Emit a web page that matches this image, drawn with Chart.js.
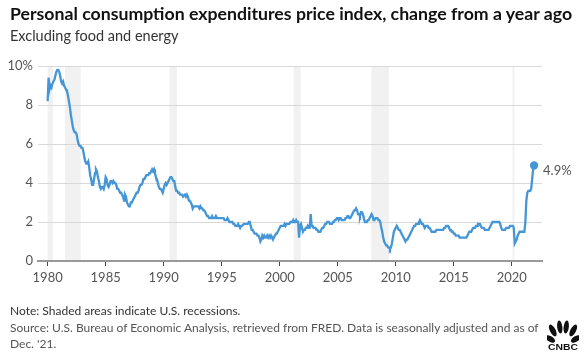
<!DOCTYPE html>
<html>
<head>
<meta charset="utf-8">
<script src="https://cdn.jsdelivr.net/npm/chart.js@4.4.1/dist/chart.umd.min.js"></script>
<style>
  body { margin: 0; width: 587px; height: 363px; background: #fff; position: relative; overflow: hidden; font-family: Lato, "Open Sans", sans-serif; }
  .title { position: absolute; left: 10px; top: 3px; font-size: 17.7px; font-weight: 700; color: #111; white-space: nowrap; }
  .subtitle { position: absolute; left: 10px; top: 27px; font-size: 14.5px; color: #333; white-space: nowrap; }
  .note { position: absolute; left: 10px; top: 303px; font-size: 12px; color: #333; white-space: nowrap; }
  .source { position: absolute; left: 10px; top: 320px; width: 530px; font-size: 12px; line-height: 16px; color: #555; }
  #wrap { position: absolute; left: 0; top: 0; width: 587px; height: 363px; }
  .logo { position: absolute; left: 547px; top: 320px; }
</style>
</head>
<body>
<div id="wrap"><canvas id="chart" width="587" height="363"></canvas></div>
<div class="title">Personal consumption expenditures price index, change from a year ago</div>
<div class="subtitle">Excluding food and energy</div>
<div class="note">Note: Shaded areas indicate U.S. recessions.</div>
<div class="source">Source: U.S. Bureau of Economic Analysis, retrieved from FRED. Data is seasonally adjusted and as of Dec. '21.</div>
<svg class="logo" width="32" height="32" viewBox="0 0 32 32">
  <g fill="#111">
    <ellipse cx="6" cy="14" rx="2.8" ry="5.5" transform="rotate(-58 9 19)"/>
    <ellipse cx="9.5" cy="8.5" rx="2.8" ry="6.5" transform="rotate(-28 11.5 17)"/>
    <ellipse cx="14" cy="7" rx="2.6" ry="6.5" transform="rotate(-7 14 17)"/>
    <ellipse cx="18" cy="7" rx="2.6" ry="6.5" transform="rotate(7 18 17)"/>
    <ellipse cx="22.5" cy="8.5" rx="2.8" ry="6.5" transform="rotate(28 20.5 17)"/>
    <ellipse cx="26" cy="14" rx="2.8" ry="5.5" transform="rotate(58 23 19)"/>
  </g>
  <text x="16" y="30" text-anchor="middle" textLength="30" lengthAdjust="spacingAndGlyphs" font-family="Liberation Sans, Arial" font-weight="700" font-size="9.5" fill="#111">CNBC</text>
</svg>
<script>
// core PCE, % change from a year ago, monthly Jan 1980 .. Dec 2021
const pce1980s = [
  8.2, 9.4, 8.8, 9.0, 8.9, 9.1, 9.2, 9.3, 9.5, 9.7, 9.8, 9.8,
  9.7, 9.5, 9.2, 9.1, 9.2, 9.0, 8.9, 8.8, 8.7, 8.5, 8.2, 7.9,
  7.5, 7.2, 6.9, 6.7, 6.6, 6.6, 6.5, 6.2, 6.0, 5.9, 5.9, 5.8,
  5.8, 5.6, 5.3, 5.1, 5.0, 5.0, 5.1, 4.8, 4.4, 4.2, 3.9, 3.9,
  4.2, 4.5, 4.7, 4.6, 4.3, 4.1, 3.8, 3.7, 3.8, 3.8, 3.7, 3.9,
  4.3, 4.2, 3.9, 3.8, 3.9, 4.1, 4.1, 4.0, 4.1, 4.0, 4.0, 3.9,
  3.7, 3.7, 3.6, 3.5, 3.5, 3.4, 3.3, 3.1, 3.4, 3.3, 3.0, 2.9,
  2.8, 2.8, 3.0, 3.0, 3.1, 3.2, 3.3, 3.4, 3.5, 3.5, 3.6, 3.8,
  3.9, 3.9, 4.0, 4.2, 4.2, 4.3, 4.4, 4.4, 4.4, 4.5, 4.5, 4.6,
  4.7, 4.6, 4.7, 4.5, 4.3, 4.2, 4.0, 3.8, 3.7, 3.7, 3.6, 3.5
]
const pce1990s = [
  3.7, 3.9, 4.0, 3.9, 4.0, 4.1, 4.2, 4.3, 4.3, 4.2, 4.1, 4.1,
  3.8, 3.6, 3.6, 3.5, 3.5, 3.4, 3.4, 3.4, 3.3, 3.3, 3.4, 3.3,
  3.4, 3.3, 3.1, 3.1, 3.0, 2.9, 2.7, 2.8, 2.8, 2.8, 2.8, 2.8,
  2.8, 2.7, 2.8, 2.7, 2.7, 2.6, 2.6, 2.5, 2.4, 2.3, 2.3, 2.2,
  2.2, 2.2, 2.3, 2.2, 2.2, 2.2, 2.3, 2.2, 2.2, 2.2, 2.2, 2.2,
  2.2, 2.2, 2.2, 2.1, 2.1, 2.1, 2.2, 2.1, 2.0, 2.0, 2.0, 2.0,
  1.9, 1.9, 1.8, 1.8, 1.8, 1.9, 1.8, 1.7, 1.8, 1.8, 1.8, 1.9,
  1.9, 1.9, 1.9, 1.9, 2.0, 2.0, 1.8, 1.6, 1.6, 1.5, 1.4, 1.4,
  1.4, 1.3, 1.3, 1.2, 1.0, 1.1, 1.3, 1.2, 1.3, 1.2, 1.2, 1.3,
  1.2, 1.3, 1.2, 1.3, 1.2, 1.1, 1.2, 1.3, 1.4, 1.4, 1.5, 1.6
]
const pce2000s = [
  1.7, 1.8, 1.8, 1.8, 1.8, 1.9, 1.8, 1.9, 1.9, 1.9, 1.9, 2.0,
  2.0, 2.0, 2.1, 2.0, 2.0, 2.1, 2.0, 2.0, 1.2, 1.8, 1.9, 1.9,
  1.5, 1.6, 1.6, 1.7, 1.7, 1.8, 1.7, 1.7, 2.4, 1.8, 1.8, 1.7,
  1.7, 1.7, 1.6, 1.6, 1.5, 1.5, 1.5, 1.6, 1.7, 1.7, 1.8, 1.9,
  1.9, 2.0, 2.0, 2.0, 1.9, 1.9, 1.9, 2.0, 2.0, 2.1, 2.1, 2.2,
  2.2, 2.1, 2.2, 2.2, 2.1, 2.1, 2.1, 2.1, 2.2, 2.2, 2.3, 2.3,
  2.2, 2.2, 2.3, 2.4, 2.5, 2.6, 2.6, 2.7, 2.6, 2.4, 2.4, 2.3,
  2.5, 2.5, 2.4, 2.2, 2.0, 2.0, 2.0, 2.1, 2.1, 2.2, 2.3, 2.4,
  2.3, 2.1, 2.1, 2.2, 2.2, 2.2, 2.1, 2.1, 2.0, 1.7, 1.5, 1.2,
  1.0, 0.9, 0.8, 0.8, 0.7, 0.7, 0.6, 0.7, 0.9, 1.2, 1.5, 1.6
]
const pce2010s = [
  1.7, 1.8, 1.7, 1.6, 1.6, 1.5, 1.4, 1.3, 1.2, 1.1, 1.0, 1.1,
  1.1, 1.2, 1.3, 1.4, 1.5, 1.6, 1.7, 1.8, 1.8, 1.9, 1.9, 1.9,
  2.0, 2.1, 2.0, 1.9, 1.9, 1.8, 1.7, 1.8, 1.8, 1.8, 1.7, 1.7,
  1.6, 1.5, 1.5, 1.5, 1.5, 1.5, 1.6, 1.6, 1.6, 1.6, 1.6, 1.6,
  1.6, 1.6, 1.7, 1.7, 1.8, 1.8, 1.8, 1.7, 1.6, 1.6, 1.5, 1.5,
  1.4, 1.4, 1.3, 1.3, 1.3, 1.3, 1.2, 1.2, 1.2, 1.2, 1.2, 1.2,
  1.2, 1.2, 1.3, 1.4, 1.5, 1.5, 1.5, 1.6, 1.7, 1.7, 1.7, 1.8,
  1.8, 1.9, 1.9, 1.9, 1.8, 1.7, 1.7, 1.7, 1.6, 1.6, 1.6, 1.6,
  1.6, 1.7, 1.8, 1.9, 2.0, 2.0, 2.0, 2.0, 2.0, 2.0, 2.0, 2.0,
  1.9, 1.7, 1.6, 1.6, 1.6, 1.6, 1.7, 1.7, 1.7, 1.7, 1.8, 1.8
]
const pce2020s = [
  1.8, 1.8, 1.7, 0.9, 1.0, 1.1, 1.3, 1.4, 1.5, 1.5, 1.5, 1.5,
  1.5, 1.5, 2.0, 3.1, 3.5, 3.6, 3.6, 3.6, 3.7, 4.2, 4.7, 4.9
]
const firstYear = 1980

// recessions (decimal years)
const recessionStarts = [1980.0, 1981.5, 1990.5, 2001.2, 2007.9, 2020.05]
const recessionEnds = [1980.45, 1982.85, 1991.15, 2001.8, 2009.4, 2020.2]

const xTickYears = [1980, 1985, 1990, 1995, 2000, 2005, 2010, 2015, 2020]
const yTickValues = [0, 2, 4, 6, 8, 10]

const values = [].concat(pce1980s, pce1990s, pce2000s, pce2010s, pce2020s)
const points = values.map(function (v, i) {
    return { x: firstYear + i / 12, y: v }
})
const lastIndex = points.length - 1

const recessionPlugin = {
    id: 'recessions',
    beforeDraw: function (chart) {
        const ctx = chart.ctx
        const area = chart.chartArea
        const x = chart.scales.x
        ctx.save()
        ctx.fillStyle = '#f1f1f1'
        recessionStarts.forEach(function (s, i) {
            const x0 = x.getPixelForValue(s)
            const x1 = x.getPixelForValue(recessionEnds[i])
            ctx.fillRect(x0, area.top, Math.max(x1 - x0, 2), area.bottom - area.top)
        })
        ctx.restore()
    }
}

const lastLabelPlugin = {
    id: 'lastLabel',
    afterDatasetsDraw: function (chart) {
        const meta = chart.getDatasetMeta(0)
        const pt = meta.data[lastIndex]
        const ctx = chart.ctx
        ctx.save()
        ctx.font = '13px Lato, "Open Sans", sans-serif'
        ctx.fillStyle = '#555'
        ctx.textBaseline = 'middle'
        ctx.fillText(values[lastIndex].toFixed(1) + '%', pt.x + 9, pt.y + 5)
        ctx.restore()
    }
}

new Chart(document.getElementById('chart'), {
    type: 'line',
    data: {
        datasets: [{
            data: points,
            borderColor: '#4596d6',
            backgroundColor: '#4596d6',
            borderWidth: 2.3,
            tension: 0,
            pointRadius: function (c) { return c.dataIndex === lastIndex ? 3 : 0 },
            pointHoverRadius: 0
        }]
    },
    options: {
        responsive: false,
        animation: false,
        layout: { padding: { left: 0, right: 45, top: 66, bottom: 72 } },
        plugins: { legend: { display: false }, tooltip: { enabled: false } },
        scales: {
            x: {
                type: 'linear',
                min: 1979.17,
                max: 2022.6,
                afterBuildTicks: function (axis) {
                    axis.ticks = xTickYears.map(function (v) { return { value: v } })
                },
                afterFit: function (axis) { axis.height = 30 },
                grid: { drawOnChartArea: false, drawTicks: true, tickLength: 5, color: '#444', lineWidth: 1 },
                border: { display: true, color: '#999', width: 2 },
                ticks: {
                    autoSkip: false,
                    maxRotation: 0,
                    padding: 4,
                    color: '#555',
                    font: { family: 'Lato, "Open Sans", sans-serif', size: 13 },
                    callback: function (v) { return String(v) }
                }
            },
            y: {
                min: 0,
                max: 10,
                afterBuildTicks: function (axis) {
                    axis.ticks = yTickValues.map(function (v) { return { value: v } })
                },
                afterFit: function (axis) { axis.width = 38 },
                grid: { color: '#d9d9d9', lineWidth: 1, drawTicks: false },
                border: { display: false },
                ticks: {
                    padding: 5,
                    color: '#555',
                    font: { family: 'Lato, "Open Sans", sans-serif', size: 13 },
                    callback: function (v) { return v === 10 ? '10%' : String(v) }
                }
            }
        }
    },
    plugins: [recessionPlugin, lastLabelPlugin]
})
</script>
</body>
</html>
